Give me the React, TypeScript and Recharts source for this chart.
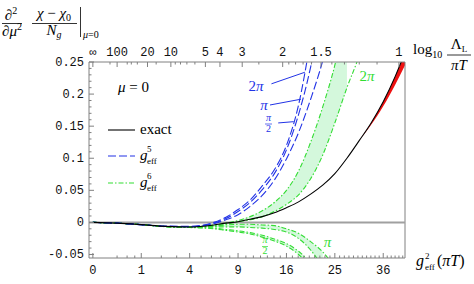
import React from "react";
import {
  ComposedChart,
  Line,
  Area,
  XAxis,
  YAxis,
  ReferenceLine,
} from "recharts";

// g_eff grid (x axis is linear in g_eff, labelled with g_eff^2)
const gGrid = [0, 0.5, 1, 1.5, 2, 2.5, 2.75, 3, 3.25, 3.5, 3.75, 4, 4.25, 4.5, 4.75, 5, 5.25, 5.5, 5.75, 6, 6.25, 6.45];

const exact = [0, -0.0012, -0.0035, -0.0062, -0.0072, -0.004, -0.0012, 0.001, 0.005, 0.009, 0.015, 0.023, 0.032, 0.044, 0.058, 0.076, 0.1, 0.127, 0.155, 0.188, 0.228, 0.265];
const exactLower = [null, null, null, null, null, null, null, null, null, null, null, null, null, null, null, null, null, 0.127, 0.152, 0.181, 0.215, 0.245];

// g^5 curves (blue, dashed)
const g5TwoPi = [0, -0.0012, -0.0035, -0.006, -0.0062, 0.0, 0.008, 0.02, 0.035, 0.057, 0.082, 0.12, 0.183, 0.285, null, null, null, null, null, null, null, null];
const g5Pi = [0, -0.0012, -0.0035, -0.006, -0.0064, -0.001, 0.006, 0.017, 0.031, 0.051, 0.076, 0.113, 0.168, 0.242, 0.34, null, null, null, null, null, null, null];
const g5HalfPi = [0, -0.0012, -0.0035, -0.006, -0.0066, -0.002, 0.004, 0.012, 0.025, 0.042, 0.066, 0.099, 0.14, 0.192, 0.252, 0.33, null, null, null, null, null, null];

// g^6 curves (green, dash-dot), bands between pairs
const g6TwoPiA = [0, -0.0012, -0.0035, -0.0063, -0.007, -0.004, -0.001, 0.003, 0.009, 0.018, 0.031, 0.05, 0.08, 0.125, 0.18, 0.245, 0.33, null, null, null, null, null];
const g6TwoPiB = [0, -0.0012, -0.0035, -0.0064, -0.0075, -0.006, -0.003, 0.001, 0.004, 0.009, 0.017, 0.028, 0.043, 0.068, 0.105, 0.155, 0.21, 0.26, 0.33, null, null, null];
const g6PiA = [0, -0.0012, -0.0035, -0.0064, -0.0072, -0.005, -0.004, -0.003, -0.003, -0.004, -0.005, -0.01, -0.017, -0.03, -0.046, -0.07, null, null, null, null, null, null];
const g6PiB = [0, -0.0012, -0.0035, -0.0065, -0.0076, -0.007, -0.007, -0.007, -0.008, -0.009, -0.011, -0.015, -0.025, -0.043, -0.07, null, null, null, null, null, null, null];
const g6HalfPiA = [0, -0.0012, -0.0035, -0.0066, -0.0078, -0.009, -0.011, -0.013, -0.016, -0.02, -0.026, -0.033, -0.045, -0.063, null, null, null, null, null, null, null, null];
const g6HalfPiB = [0, -0.0012, -0.0035, -0.0067, -0.008, -0.01, -0.0125, -0.015, -0.018, -0.023, -0.029, -0.037, -0.05, -0.07, null, null, null, null, null, null, null, null];

// axis ticks
const bottomMajor = [0, 1, 4, 9, 16, 25, 36];
const bottomMinor = [0.25, 0.5, 0.75, 2, 3, 5, 6, 7, 8, 10, 11, 12, 13, 14, 15, 17, 18, 19, 20, 21, 22, 23, 24, 26, 27, 28, 29, 30, 31, 32, 33, 34, 35, 37, 38, 39, 40, 41];
const topMajor = [Infinity, 100, 20, 10, 5, 4, 3, 2, 1.5, 1];
const topMajorLabels = ["∞", "100", "20", "10", "5", "4", "3", "2", "1.5", "1"];
const topMinor = [200, 50, 40, 30, 15, 9, 8, 7, 6, 2.5, 1.9, 1.8, 1.7, 1.6, 1.4, 1.3, 1.2, 1.1];
const yMajor = [-0.05, 0, 0.05, 0.1, 0.15, 0.2, 0.25];
const yMajorLabels = ["-0.05", "0", "0.05", "0.1", "0.15", "0.2", "0.25"];

const X_MIN = -0.08;
const X_MAX = 6.45;
const Y_MIN = -0.0555;
const Y_MAX = 0.25;

const PLOT_TOP = 62;
const PLOT_BOTTOM = 258;
const PLOT_LEFT = 89;

const FRAME = "#808080";
const BLUE = "#2233e6";
const GREEN = "#33dd33";
const BAND = "#d4f8dc";
const RED = "#ee1111";
const MONO = "Liberation Mono, DejaVu Sans Mono, monospace";
const SERIF = "Liberation Serif, DejaVu Serif, serif";
const monoStyle = { fontFamily: MONO };
const serifStyle = { fontFamily: SERIF };

// one-loop-ish map from Lambda/piT label to g_eff position on the top axis
const gOfL = (L: number) => (L === Infinity ? 0 : 1 / Math.sqrt(0.04 * L - 0.015));

const range = (lo: (number | null)[], hi: (number | null)[], i: number) =>
  lo[i] != null && hi[i] != null ? [lo[i], hi[i]] : null;

const rows = gGrid.map((g, i) => ({
  g,
  exact: exact[i],
  red: range(exactLower, exact, i),
  g5TwoPi: g5TwoPi[i],
  g5Pi: g5Pi[i],
  g5HalfPi: g5HalfPi[i],
  g6TwoPiA: g6TwoPiA[i],
  g6TwoPiB: g6TwoPiB[i],
  g6PiA: g6PiA[i],
  g6PiB: g6PiB[i],
  g6HalfPiA: g6HalfPiA[i],
  g6HalfPiB: g6HalfPiB[i],
  bandTwoPi: range(g6TwoPiB, g6TwoPiA, i),
  bandPi: range(g6PiB, g6PiA, i),
  bandHalfPi: range(g6HalfPiB, g6HalfPiA, i),
}));

const bottomTicks = [...bottomMajor, ...bottomMinor].map((n) => Math.sqrt(n));
const topTicks = [...topMajor, ...topMinor].map(gOfL);
const yTicks = [...yMajor];
for (let k = -5; k <= 25; k++) {
  if (k % 5 !== 0) yTicks.push(k / 100);
}

function BottomTick(props: any) {
  const { x, payload } = props;
  const v = payload.value;
  const idx = bottomMajor.findIndex((n) => Math.abs(Math.sqrt(n) - v) < 1e-6);
  const major = idx >= 0;
  return (
    <g>
      <line x1={x} x2={x} y1={PLOT_BOTTOM} y2={PLOT_BOTTOM - (major ? 5 : 2.5)} stroke={FRAME} />
      {major && (
        <text x={x} y={274} textAnchor="middle" style={monoStyle} fontSize={12} fill="#111">
          {bottomMajor[idx]}
        </text>
      )}
    </g>
  );
}

function TopTick(props: any) {
  const { x, payload } = props;
  const v = payload.value;
  const idx = topMajor.findIndex((L) => Math.abs(gOfL(L) - v) < 1e-6);
  const major = idx >= 0;
  return (
    <g>
      <line x1={x} x2={x} y1={PLOT_TOP} y2={PLOT_TOP + (major ? 5 : 2.5)} stroke={FRAME} />
      {major && (
        <text x={x} y={56} textAnchor="middle" style={monoStyle} fontSize={12} fill="#111">
          {topMajorLabels[idx]}
        </text>
      )}
    </g>
  );
}

function LeftTick(props: any) {
  const { y, payload } = props;
  const v = payload.value;
  const idx = yMajor.findIndex((m) => Math.abs(m - v) < 1e-9);
  const major = idx >= 0;
  return (
    <g>
      <line x1={PLOT_LEFT} x2={PLOT_LEFT + (major ? 5 : 2.5)} y1={y} y2={y} stroke={FRAME} />
      {major && (
        <text x={84} y={y + 4} textAnchor="end" style={monoStyle} fontSize={12} fill="#111">
          {yMajorLabels[idx]}
        </text>
      )}
    </g>
  );
}

const greenLine = (key: string) => (
  <Line
    key={key}
    dataKey={key}
    type="monotone"
    stroke={GREEN}
    strokeWidth={1.1}
    strokeDasharray="5 2 1.5 2"
    dot={false}
    activeDot={false}
    isAnimationActive={false}
  />
);

const blueLine = (key: string) => (
  <Line
    key={key}
    dataKey={key}
    type="monotone"
    stroke={BLUE}
    strokeWidth={1.1}
    strokeDasharray="8 3"
    dot={false}
    activeDot={false}
    isAnimationActive={false}
  />
);

const band = (key: string) => (
  <Area
    key={key}
    dataKey={key}
    type="monotone"
    stroke="none"
    fill={BAND}
    fillOpacity={1}
    dot={false}
    activeDot={false}
    isAnimationActive={false}
  />
);

export default function App() {
  return (
    <div style={{ position: "absolute", left: 0, top: 0, width: 474, height: 284, background: "#fff" }}>
      <ComposedChart
        width={474}
        height={284}
        data={rows}
        margin={{ top: 0, right: 69, bottom: 0, left: 0 }}
      >
        <XAxis
          dataKey="g"
          type="number"
          domain={[X_MIN, X_MAX]}
          allowDataOverflow
          ticks={bottomTicks}
          interval={0}
          height={26}
          axisLine={{ stroke: FRAME }}
          tickLine={false}
          tick={<BottomTick />}
        />
        <XAxis
          xAxisId="top"
          orientation="top"
          dataKey="g"
          type="number"
          domain={[X_MIN, X_MAX]}
          allowDataOverflow
          ticks={topTicks}
          interval={0}
          height={62}
          axisLine={{ stroke: FRAME }}
          tickLine={false}
          tick={<TopTick />}
        />
        <YAxis
          type="number"
          domain={[Y_MIN, Y_MAX]}
          allowDataOverflow
          ticks={yTicks}
          interval={0}
          width={89}
          axisLine={{ stroke: FRAME }}
          tickLine={false}
          tick={<LeftTick />}
        />
        <ReferenceLine x={X_MAX} stroke={FRAME} />

        {band("bandTwoPi")}
        {band("bandPi")}
        {band("bandHalfPi")}

        <ReferenceLine y={0} stroke="#a0a0a0" strokeWidth={2} />

        {greenLine("g6TwoPiA")}
        {greenLine("g6TwoPiB")}
        {greenLine("g6PiA")}
        {greenLine("g6PiB")}
        {greenLine("g6HalfPiA")}
        {greenLine("g6HalfPiB")}

        {blueLine("g5TwoPi")}
        {blueLine("g5Pi")}
        {blueLine("g5HalfPi")}

        <Area
          dataKey="red"
          type="monotone"
          stroke="none"
          fill={RED}
          fillOpacity={1}
          dot={false}
          activeDot={false}
          isAnimationActive={false}
        />
        <Line
          dataKey="exact"
          type="monotone"
          stroke="#000"
          strokeWidth={1.1}
          dot={false}
          activeDot={false}
          isAnimationActive={false}
        />

        {/* pointer lines from the blue labels */}
        <ReferenceLine
          segment={[{ x: 3.69, y: 0.216 }, { x: 4.38, y: 0.234 }]}
          stroke={BLUE}
          ifOverflow="visible"
        />
        <ReferenceLine
          segment={[{ x: 3.66, y: 0.183 }, { x: 4.3, y: 0.192 }]}
          stroke={BLUE}
          ifOverflow="visible"
        />
        <ReferenceLine
          segment={[{ x: 3.83, y: 0.155 }, { x: 4.15, y: 0.157 }]}
          stroke={BLUE}
          ifOverflow="visible"
        />
      </ComposedChart>

      <svg
        width={474}
        height={284}
        style={{ position: "absolute", left: 0, top: 0, pointerEvents: "none", ...serifStyle }}
      >
        {/* y-axis title */}
        <text x={11} y={20} fontSize={15} textAnchor="middle" style={serifStyle}>
          ∂<tspan fontSize={10} dy={-6}>2</tspan>
        </text>
        <line x1={2} x2={22} y1={23.5} y2={23.5} stroke="#000" strokeWidth={0.8} />
        <text x={12} y={36} fontSize={15} textAnchor="middle" style={serifStyle}>
          ∂<tspan fontStyle="italic">μ</tspan>
          <tspan fontSize={10} dy={-6}>2</tspan>
        </text>
        <text x={54} y={18} fontSize={15} textAnchor="middle" style={serifStyle}>
          <tspan fontStyle="italic">χ</tspan> − <tspan fontStyle="italic">χ</tspan>
          <tspan fontSize={10} dy={3}>0</tspan>
        </text>
        <line x1={32} x2={77} y1={23.5} y2={23.5} stroke="#000" strokeWidth={0.8} />
        <text x={54} y={35} fontSize={15} textAnchor="middle" style={serifStyle}>
          <tspan fontStyle="italic">N</tspan>
          <tspan fontSize={10} fontStyle="italic" dy={3}>g</tspan>
        </text>
        <line x1={80.5} x2={80.5} y1={7} y2={37} stroke="#000" strokeWidth={0.8} />
        <text x={83} y={38} fontSize={10} style={serifStyle}>
          <tspan fontStyle="italic">μ</tspan>=0
        </text>

        {/* top axis title */}
        <text x={413} y={54} fontSize={15} style={serifStyle}>
          log<tspan fontSize={10} dy={4}>10</tspan>
        </text>
        <text x={459} y={49} fontSize={15} textAnchor="middle" style={serifStyle}>
          Λ<tspan fontSize={9} dy={3}>L</tspan>
        </text>
        <line x1={447} x2={471} y1={55} y2={55} stroke="#000" strokeWidth={0.8} />
        <text x={459} y={70} fontSize={15} textAnchor="middle" fontStyle="italic" style={serifStyle}>
          πT
        </text>

        {/* bottom axis title */}
        <text x={416} y={266} fontSize={16} fontStyle="italic" style={serifStyle}>g</text>
        <text x={425} y={259} fontSize={9} style={serifStyle}>2</text>
        <text x={425} y={270} fontSize={9} style={serifStyle}>eff</text>
        <text x={437} y={266} fontSize={16} style={serifStyle}>
          (<tspan fontStyle="italic">πT</tspan>)
        </text>

        {/* legend */}
        <text x={118} y={92} fontSize={15} style={serifStyle}>
          <tspan fontStyle="italic">μ</tspan> = 0
        </text>
        <line x1={108} x2={135} y1={130} y2={130} stroke="#000" strokeWidth={1.1} />
        <text x={140} y={134} fontSize={15} style={serifStyle}>exact</text>
        <line x1={108} x2={135} y1={156} y2={156} stroke={BLUE} strokeWidth={1.1} strokeDasharray="8 3" />
        <text x={140} y={160} fontSize={15} fontStyle="italic" style={serifStyle}>g</text>
        <text x={147} y={152} fontSize={9} style={serifStyle}>5</text>
        <text x={147} y={164} fontSize={9} style={serifStyle}>eff</text>
        <line x1={108} x2={135} y1={183} y2={183} stroke={GREEN} strokeWidth={1.1} strokeDasharray="5 2 1.5 2" />
        <text x={140} y={187} fontSize={15} fontStyle="italic" style={serifStyle}>g</text>
        <text x={147} y={179} fontSize={9} style={serifStyle}>6</text>
        <text x={147} y={191} fontSize={9} style={serifStyle}>eff</text>

        {/* blue labels */}
        <text x={256} y={91} fontSize={15} textAnchor="middle" fill={BLUE} style={serifStyle}>
          2<tspan fontStyle="italic">π</tspan>
        </text>
        <text x={264} y={110} fontSize={15} textAnchor="middle" fill={BLUE} fontStyle="italic" style={serifStyle}>π</text>
        <text x={268.5} y={121} fontSize={10} textAnchor="middle" fill={BLUE} fontStyle="italic" style={serifStyle}>π</text>
        <line x1={265} x2={272} y1={124} y2={124} stroke={BLUE} strokeWidth={0.7} />
        <text x={268.5} y={132} fontSize={10} textAnchor="middle" fill={BLUE} style={serifStyle}>2</text>

        {/* green labels */}
        <text x={367} y={81} fontSize={15} textAnchor="middle" fill={GREEN} style={serifStyle}>
          2<tspan fontStyle="italic">π</tspan>
        </text>
        <text x={327.5} y={247} fontSize={15} textAnchor="middle" fill={GREEN} fontStyle="italic" style={serifStyle}>π</text>
        <text x={265} y={243} fontSize={10} textAnchor="middle" fill={GREEN} fontStyle="italic" style={serifStyle}>π</text>
        <line x1={262} x2={268} y1={246.5} y2={246.5} stroke={GREEN} strokeWidth={0.7} />
        <text x={265} y={254} fontSize={10} textAnchor="middle" fill={GREEN} style={serifStyle}>2</text>
      </svg>
    </div>
  );
}
